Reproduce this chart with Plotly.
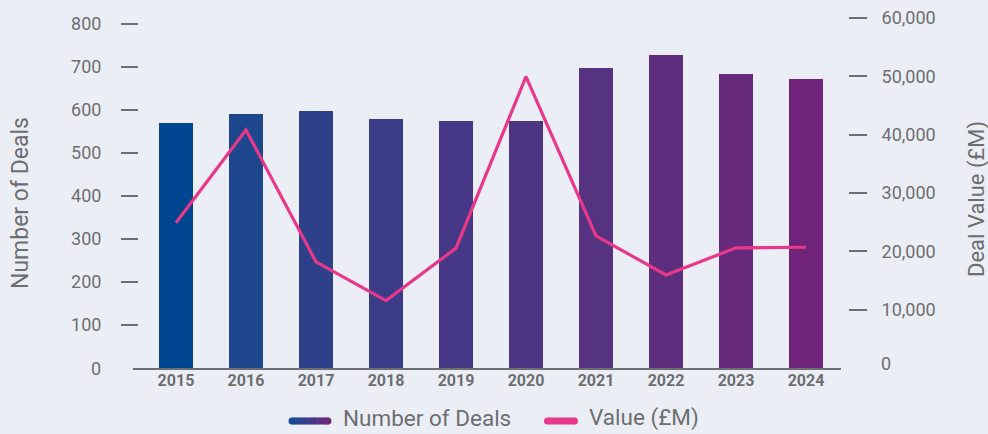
import plotly.graph_objects as go

# ---- data ----
years = ["2015", "2016", "2017", "2018", "2019", "2020", "2021", "2022", "2023", "2024"]
number_of_deals = [570, 591, 598, 579, 574, 574, 698, 728, 684, 672]
deal_value_gbp_m = [24900, 40800, 18200, 11550, 20550, 49950, 22650, 15950, 20600, 20700]

deals_ticks = [100, 200, 300, 400, 500, 600, 700, 800]
value_ticks = [10000, 20000, 30000, 40000, 50000, 60000]

# ---- styling ----
bar_colors = ["#004590", "#1e468d", "#2f408b", "#3a3c87", "#463886",
              "#4e3584", "#553381", "#5e2e7e", "#67297c", "#6f237b"]
line_color = "#e8388a"
text_color = "#6d6e71"
bg = "#eceef6"
font_family = "Roboto, 'Open Sans', sans-serif"

W, H = 988, 434
PLOT_L, PLOT_R, PLOT_T, PLOT_B = 133, 848, 18, 368   # plotting space in pixels
PW, PH = PLOT_R - PLOT_L, PLOT_B - PLOT_T


def px(x):
    return (x - PLOT_L) / PW


def py(y):
    return (PLOT_B - y) / PH


fig = go.Figure()

fig.add_trace(go.Bar(
    x=years, y=number_of_deals, name="Number of Deals",
    marker=dict(color=bar_colors, line=dict(width=0)),
    width=0.486, yaxis="y", showlegend=False,
))

fig.add_trace(go.Scatter(
    x=years, y=deal_value_gbp_m, name="Value (£M)", mode="lines",
    line=dict(color=line_color, width=3.2),
    yaxis="y2", showlegend=False,
))

annotations = []
shapes = []

# axis titles
annotations.append(dict(text="Number of Deals", x=px(20), y=py(203), xref="paper", yref="paper",
                        textangle=-90, showarrow=False, xanchor="center", yanchor="middle",
                        font=dict(size=23, color=text_color, family=font_family)))
annotations.append(dict(text="Deal Value (£M)", x=px(977), y=py(199), xref="paper", yref="paper",
                        textangle=-90, showarrow=False, xanchor="center", yanchor="middle",
                        font=dict(size=22, color=text_color, family=font_family)))

# zero labels (no tick dash at zero)
annotations.append(dict(text="0", x=px(103), y=py(368), xref="paper", yref="paper",
                        showarrow=False, xanchor="right", yanchor="middle",
                        font=dict(size=18, color=text_color, family=font_family)))
annotations.append(dict(text="0", x=px(879), y=py(363), xref="paper", yref="paper",
                        showarrow=False, xanchor="left", yanchor="middle",
                        font=dict(size=18, color=text_color, family=font_family)))

# legend: gradient swatch for bars
LEG_Y = 421
HALF = 3.5
sw_x0, sw_x1 = 292, 328
c0, c1 = (0x1a, 0x4a, 0x93), (0x6b, 0x2a, 0x80)
n_seg = 20
seg = (sw_x1 - sw_x0) / n_seg
for i in range(n_seg):
    t = i / (n_seg - 1)
    col = "rgb({},{},{})".format(*[round(a + (b - a) * t) for a, b in zip(c0, c1)])
    shapes.append(dict(type="rect", xref="paper", yref="paper",
                       x0=px(sw_x0 + i * seg), x1=px(sw_x0 + (i + 1) * seg + 0.6),
                       y0=py(LEG_Y + HALF), y1=py(LEG_Y - HALF),
                       fillcolor=col, line=dict(width=0), layer="above"))
for cx, col in ((sw_x0, "rgb(26,74,147)"), (sw_x1, "rgb(107,42,128)")):
    shapes.append(dict(type="circle", xref="paper", yref="paper",
                       x0=px(cx - HALF), x1=px(cx + HALF), y0=py(LEG_Y + HALF), y1=py(LEG_Y - HALF),
                       fillcolor=col, line=dict(width=0), layer="above"))

# legend: pink swatch for value line
pk_x0, pk_x1 = 547.5, 574.5
shapes.append(dict(type="rect", xref="paper", yref="paper",
                   x0=px(pk_x0), x1=px(pk_x1), y0=py(LEG_Y + HALF), y1=py(LEG_Y - HALF),
                   fillcolor=line_color, line=dict(width=0), layer="above"))
for cx in (pk_x0, pk_x1):
    shapes.append(dict(type="circle", xref="paper", yref="paper",
                       x0=px(cx - HALF), x1=px(cx + HALF), y0=py(LEG_Y + HALF), y1=py(LEG_Y - HALF),
                       fillcolor=line_color, line=dict(width=0), layer="above"))

annotations.append(dict(text="Number of Deals", x=px(341), y=py(433), xref="paper", yref="paper",
                        showarrow=False, xanchor="left", yanchor="bottom",
                        font=dict(size=22.5, color=text_color, family=font_family)))
annotations.append(dict(text="Value (£M)", x=px(587), y=py(433), xref="paper", yref="paper",
                        showarrow=False, xanchor="left", yanchor="bottom",
                        font=dict(size=22.5, color=text_color, family=font_family)))

fig.update_layout(
    width=W, height=H,
    margin=dict(l=PLOT_L, r=W - PLOT_R, t=PLOT_T, b=H - PLOT_B, autoexpand=False),
    paper_bgcolor=bg, plot_bgcolor=bg,
    font=dict(family=font_family, color=text_color),
    bargap=0,
    xaxis=dict(
        domain=[0, (841 - PLOT_L) / PW], type="category",
        range=[-0.614, 9.5], showgrid=False, zeroline=False,
        showline=True, linecolor=text_color, linewidth=1.5,
        ticks="", ticklabelstandoff=-3,
        tickfont=dict(size=16, color=text_color, family=font_family, weight="bold"),
    ),
    yaxis=dict(
        range=[0, 800 * PH / 344], anchor="free", position=px(138),
        showgrid=False, zeroline=False, showline=False,
        tickmode="array", tickvals=deals_ticks, ticktext=[str(v) for v in deals_ticks],
        ticks="outside", ticklen=17, tickwidth=1.5, tickcolor=text_color,
        ticklabelstandoff=16,
        tickfont=dict(size=18, color=text_color, family=font_family),
    ),
    yaxis2=dict(
        range=[0, 60000], overlaying="y", side="right", anchor="free", position=1.0,
        showgrid=False, zeroline=False, showline=False,
        tickmode="array", tickvals=value_ticks, ticktext=[f"{v:,}" for v in value_ticks],
        ticks="outside", ticklen=18, tickwidth=1.5, tickcolor=text_color,
        ticklabelstandoff=11,
        tickfont=dict(size=18, color=text_color, family=font_family),
    ),
    annotations=annotations,
    shapes=shapes,
    showlegend=False,
)

fig.write_html("out.html")
